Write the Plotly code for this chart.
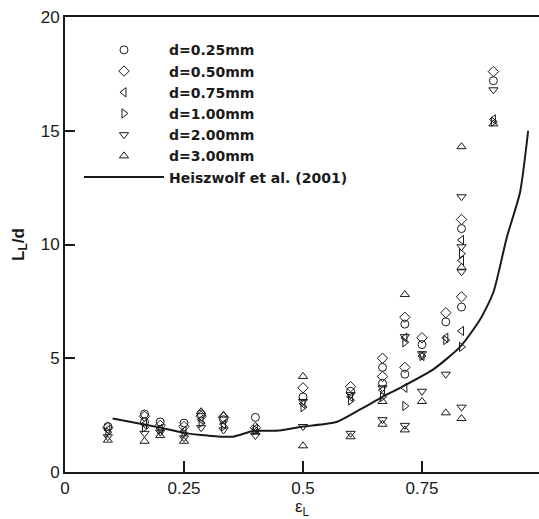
import plotly.graph_objects as go

# Liquid slug length L_L/d versus liquid hold-up eps_L for several channel diameters
eps_025 = [0.09, 0.167, 0.167, 0.2, 0.25, 0.286, 0.333, 0.4, 0.5, 0.6, 0.667, 0.667, 0.714, 0.714, 0.75, 0.8, 0.833, 0.833, 0.9]
L_025 = [2.0, 2.55, 2.2, 2.2, 2.15, 2.55, 2.3, 2.4, 3.3, 3.55, 4.6, 3.9, 6.5, 4.3, 5.6, 6.6, 10.7, 7.25, 17.2]

eps_050 = [0.09, 0.167, 0.2, 0.25, 0.286, 0.333, 0.4, 0.5, 0.6, 0.667, 0.667, 0.714, 0.714, 0.75, 0.8, 0.833, 0.833, 0.9]
L_050 = [1.95, 2.45, 2.05, 2.0, 2.45, 2.4, 1.95, 3.7, 3.75, 5.0, 4.2, 6.8, 4.6, 5.9, 7.0, 11.1, 7.7, 17.6]

eps_075 = [0.09, 0.167, 0.2, 0.25, 0.286, 0.333, 0.4, 0.5, 0.6, 0.667, 0.714, 0.714, 0.75, 0.8, 0.833, 0.833, 0.833, 0.9]
L_075 = [1.85, 2.1, 1.9, 1.8, 2.3, 2.1, 1.9, 3.0, 3.3, 3.6, 5.9, 3.7, 5.1, 5.9, 10.2, 9.3, 6.2, 15.5]

eps_100 = [0.09, 0.167, 0.2, 0.25, 0.286, 0.333, 0.4, 0.5, 0.6, 0.667, 0.714, 0.714, 0.75, 0.8, 0.833, 0.833, 0.9]
L_100 = [1.75, 1.95, 1.85, 1.7, 2.15, 2.0, 1.85, 2.85, 3.15, 3.3, 5.7, 2.9, 5.1, 5.8, 9.6, 5.5, 15.4]

eps_200 = [0.09, 0.167, 0.2, 0.25, 0.286, 0.333, 0.4, 0.5, 0.5, 0.6, 0.6, 0.667, 0.667, 0.714, 0.714, 0.75, 0.75, 0.8, 0.833, 0.833, 0.833, 0.833, 0.9]
L_200 = [1.55, 1.7, 1.75, 1.5, 1.95, 1.85, 1.6, 3.1, 2.0, 3.4, 1.7, 3.7, 2.3, 5.95, 2.05, 5.2, 3.55, 4.3, 12.1, 9.9, 8.8, 2.85, 16.8]

eps_300 = [0.09, 0.167, 0.2, 0.25, 0.286, 0.333, 0.4, 0.5, 0.5, 0.6, 0.667, 0.667, 0.714, 0.714, 0.75, 0.8, 0.833, 0.833, 0.833, 0.9]
L_300 = [1.4, 1.35, 1.6, 1.35, 2.65, 2.5, 1.75, 4.2, 1.15, 1.55, 3.1, 2.1, 7.8, 1.85, 3.1, 2.6, 14.3, 9.0, 2.35, 15.3]

# Heiszwolf et al. (2001) correlation
eps_corr = [0.1, 0.15, 0.2, 0.25, 0.3, 0.353, 0.395, 0.45, 0.5, 0.57, 0.62, 0.667,
            0.704, 0.773, 0.83, 0.872, 0.9, 0.928, 0.956, 0.973]
L_corr = [2.35, 2.15, 1.95, 1.72, 1.6, 1.55, 1.8, 1.82, 2.0, 2.2, 2.75, 3.3,
          3.7, 4.5, 5.5, 6.7, 7.9, 10.3, 12.3, 15.0]

series = [
    ("d=0.25mm", eps_025, L_025, "circle-open"),
    ("d=0.50mm", eps_050, L_050, "diamond-open"),
    ("d=0.75mm", eps_075, L_075, "triangle-left-open"),
    ("d=1.00mm", eps_100, L_100, "triangle-right-open"),
    ("d=2.00mm", eps_200, L_200, "triangle-down-open"),
    ("d=3.00mm", eps_300, L_300, "triangle-up-open"),
]

FONT = "Liberation Sans, Arial, sans-serif"
LEGEND_FONT = "DejaVu Sans, Verdana, sans-serif"
INK = "#1a1a1a"

fig = go.Figure()
for name, xs, ys, sym in series:
    fig.add_trace(go.Scatter(
        x=xs, y=ys, mode="markers", name=name,
        marker=dict(symbol=sym, size=8, color=INK, line=dict(width=1, color=INK)),
    ))

fig.add_trace(go.Scatter(
    x=eps_corr, y=L_corr, mode="lines", name="Heiszwolf et al. (2001)",
    line=dict(color=INK, width=2, shape="spline", smoothing=0.6),
))

fig.update_layout(
    width=539, height=519,
    margin=dict(l=65, r=0, t=17, b=47),
    paper_bgcolor="white", plot_bgcolor="white",
    font=dict(family=FONT, color=INK, size=16),
    showlegend=True,
    legend=dict(
        x=0.0295, y=0.962, xanchor="left", yanchor="top",
        bgcolor="rgba(0,0,0,0)", borderwidth=0,
        font=dict(family=LEGEND_FONT, size=14, color=INK, weight="bold"),
        itemwidth=80, tracegroupgap=0,
    ),
)

fig.update_xaxes(
    range=[0, 0.9958], showgrid=False, zeroline=False,
    showline=True, linecolor=INK, linewidth=2, mirror=True,
    ticks="inside", ticklen=11, tickwidth=2, tickcolor=INK,
    tickvals=[0, 0.25, 0.5, 0.75], ticktext=["0", "0.25", "0.5", "0.75"],
    tickfont=dict(size=17, family=FONT, color=INK),
    title=dict(text="ε<sub>L</sub>", font=dict(size=17, family=FONT, color=INK), standoff=8),
)
fig.update_yaxes(
    range=[0, 20], showgrid=False, zeroline=False,
    showline=True, linecolor=INK, linewidth=2,
    ticks="inside", ticklen=10, tickwidth=2, tickcolor=INK,
    tickvals=[0, 5, 10, 15, 20],
    tickfont=dict(size=17, family=FONT, color=INK),
    title=dict(text="<b>L<sub>L</sub>/d</b>", font=dict(size=17, family=FONT, color=INK), standoff=12),
)

fig.write_html("out.html")
